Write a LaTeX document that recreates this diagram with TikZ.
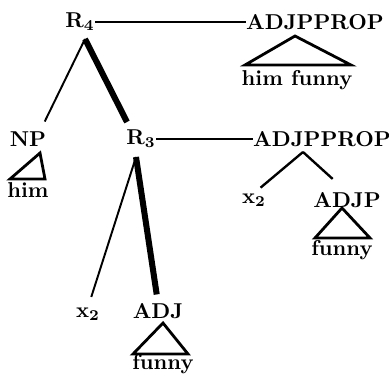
\documentclass[tikz,border=0pt]{standalone}
\begin{document}
\begin{tikzpicture}[x=0.465pt, y=-0.465pt,
    cat/.style={inner sep=0pt, font=\bfseries},
    branch/.style={line width=0.9pt, shorten >=5pt},
    headbranch/.style={line width=2.8pt, shorten >=4pt},
    roof/.style={line width=1.3pt, line join=miter},
    link/.style={line width=0.6pt}]
    \useasboundingbox (0,0) rectangle (389,377);
    \begin{scope}

        \begin{scope}[every node/.style={cat}]
          \node (r4) at (80, 22) {R$_{\mathbf 4}$};
          \node (top) at (315, 22) {ADJPPROP};
          \node (topw) at (297, 80) {him funny};
          \node (np) at (28, 139) {NP};
          \node (npw) at (28, 190) {him};
          \node (r3) at (141, 139) {R$_{\mathbf 3}$};
          \node (mid) at (322, 139) {ADJPPROP};
          \node (x2a) at (254, 200) {x$_{\mathbf 2}$};
          \node (adjp) at (347, 200) {ADJP};
          \node (adjpw) at (342, 250) {funny};
          \node (x2b) at (88, 314) {x$_{\mathbf 2}$};
          \node (adj) at (158, 311) {ADJ};
          \node (adjw) at (163, 364) {funny};
        \end{scope}

        \begin{scope}
          \coordinate (r4b) at (85, 39);
          \coordinate (r3b) at (136, 157);
          \coordinate (midb) at (303, 152);
          \draw [branch] (r4b) to (np.north -| 40, 0);
          \draw [headbranch, shorten >=0pt] (r4b) to (127, 122);
          \draw [branch] (r3b) to (x2b.north);
          \draw [headbranch] (r3b) to (adj.north);
          \draw [link] (r4) to (top);
          \draw [link] (r3) to (mid);
          \draw [branch, line width=1.1pt, shorten >=4pt] (midb) to (x2a.north);
          \draw [branch, line width=1.1pt, shorten >=9pt] (midb) to (adjp.north);
        \end{scope}

        \begin{scope}[roof]
          \draw (295, 36) -- (245, 65) -- (351, 65) -- cycle;
          \draw (40, 153) -- (10, 179) -- (45, 179) -- cycle;
          \draw (342, 208) -- (315, 238) -- (370, 238) -- cycle;
          \draw (163, 323) -- (133, 354) -- (188, 354) -- cycle;
        \end{scope}
      \end{scope}

  \end{tikzpicture}
\end{document}
